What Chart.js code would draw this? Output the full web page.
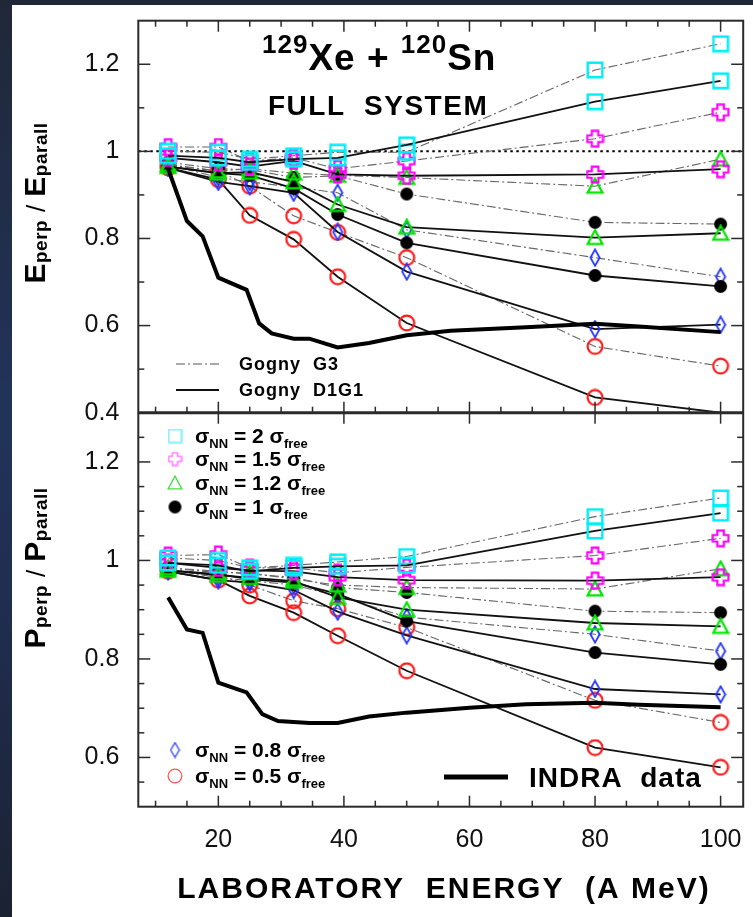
<!DOCTYPE html>
<html>
<head>
<meta charset="utf-8">
<script src="https://cdn.jsdelivr.net/npm/chart.js@4.4.0/dist/chart.umd.min.js"></script>
<style>
  html, body { margin: 0; padding: 0; }
  body {
    width: 753px; height: 917px; overflow: hidden;
    background: linear-gradient(180deg, #202838 0%, #22335a 45%, #1f2c4c 70%, #1b2232 100%);
  }
  #c { position: absolute; left: 0; top: 0; }
</style>
</head>
<body>
<canvas id="c" width="753" height="917"></canvas>
<script>
// beam energies (A MeV) of the simulations
var energy = [12, 20, 25, 32, 39, 50, 80, 100];

// E_perp / E_parall, Gogny G3 (dash-dot) and D1G1 (solid), per sigma_NN
var eG3s20 = [1.000, 0.998, 0.982, 0.990, 0.998, 0.998, 1.187, 1.247];
var eD1s20 = [0.990, 0.985, 0.975, 0.982, 0.985, 1.015, 1.114, 1.162];
var eG3s15 = [1.010, 1.010, 0.978, 0.985, 0.960, 0.978, 1.029, 1.090];
var eD1s15 = [0.985, 0.975, 0.965, 0.978, 0.947, 0.944, 0.947, 0.959];
var eG3s12 = [0.970, 0.955, 0.960, 0.950, 0.945, 0.940, 0.920, 0.982];
var eD1s12 = [0.965, 0.950, 0.952, 0.930, 0.878, 0.826, 0.802, 0.812];
var eG3s10 = [0.975, 0.960, 0.958, 0.940, 0.944, 0.902, 0.837, 0.833];
var eD1s10 = [0.965, 0.950, 0.945, 0.915, 0.855, 0.790, 0.715, 0.690];
var eG3s08 = [0.970, 0.940, 0.930, 0.918, 0.905, 0.820, 0.756, 0.712];
var eD1s08 = [0.962, 0.930, 0.920, 0.905, 0.815, 0.724, 0.592, 0.602];
var eG3s05 = [0.968, 0.955, 0.920, 0.852, 0.814, 0.756, 0.552, 0.507];
var eD1s05 = [0.962, 0.935, 0.853, 0.798, 0.712, 0.606, 0.435, 0.400];

// P_perp / P_parall
var pG3s20 = [1.005, 1.000, 0.985, 0.990, 0.997, 1.008, 1.089, 1.127];
var pD1s20 = [0.995, 0.990, 0.978, 0.985, 0.988, 0.990, 1.060, 1.096];
var pG3s15 = [1.010, 1.012, 0.985, 0.985, 0.975, 0.986, 1.010, 1.045];
var pD1s15 = [0.995, 0.985, 0.980, 0.978, 0.966, 0.960, 0.959, 0.966];
var pG3s12 = [0.985, 0.975, 0.975, 0.962, 0.950, 0.945, 0.942, 0.983];
var pD1s12 = [0.980, 0.970, 0.965, 0.958, 0.925, 0.900, 0.873, 0.866];
var pG3s10 = [0.985, 0.978, 0.972, 0.966, 0.945, 0.935, 0.897, 0.894];
var pD1s10 = [0.980, 0.972, 0.962, 0.955, 0.932, 0.877, 0.813, 0.789];
var pG3s08 = [0.982, 0.965, 0.959, 0.950, 0.928, 0.885, 0.850, 0.816];
var pD1s08 = [0.978, 0.960, 0.955, 0.940, 0.896, 0.848, 0.739, 0.728];
var pG3s05 = [0.982, 0.970, 0.950, 0.918, 0.902, 0.864, 0.716, 0.671];
var pD1s05 = [0.978, 0.960, 0.928, 0.894, 0.847, 0.776, 0.620, 0.580];

// INDRA data
var indraEx = [12, 15, 17.5, 20, 24.5, 26.5, 28.5, 32, 34.5, 39, 44, 50, 57, 69, 80, 87, 100];
var indraE  = [0.960, 0.840, 0.805, 0.710, 0.682, 0.605, 0.582, 0.570, 0.570, 0.550, 0.560, 0.578, 0.588, 0.596, 0.604, 0.598, 0.585];
var indraPx = [12, 15, 17.5, 20, 24.5, 27, 29.5, 34.5, 39, 44, 50, 60, 69, 80, 87, 100];
var indraP  = [0.925, 0.860, 0.853, 0.752, 0.732, 0.688, 0.674, 0.670, 0.670, 0.683, 0.691, 0.701, 0.708, 0.711, 0.707, 0.702];

// axes
var xMin = 7.25, xMax = 103.6;
var xTicks = [20, 40, 60, 80, 100];
var eTicks = [0.4, 0.6, 0.8, 1, 1.2];
var pTicks = [0.6, 0.8, 1, 1.2];

var FONT = '"Liberation Sans", Arial, Helvetica, sans-serif';
Chart.defaults.font.family = FONT;

function marker(kind, color, s, lw, fill) {
  var w = kind === 'diamond' ? Math.round(s * 0.62) : s, h = s;
  var c = document.createElement('canvas');
  c.width = w; c.height = h;
  var g = c.getContext('2d');
  g.strokeStyle = color; g.fillStyle = color; g.lineWidth = lw;
  var p = lw / 2 + 0.5;
  g.beginPath();
  if (kind === 'square') {
    g.rect(p, p, w - 2 * p, h - 2 * p);
  } else if (kind === 'cross') {
    var a = s * 0.33, b = s - a;
    g.moveTo(a, p); g.lineTo(b, p); g.lineTo(b, a); g.lineTo(s - p, a); g.lineTo(s - p, b);
    g.lineTo(b, b); g.lineTo(b, s - p); g.lineTo(a, s - p); g.lineTo(a, b); g.lineTo(p, b);
    g.lineTo(p, a); g.lineTo(a, a); g.closePath();
  } else if (kind === 'triangle') {
    g.moveTo(w / 2, p); g.lineTo(w - p, h - p - 1); g.lineTo(p, h - p - 1); g.closePath();
  } else if (kind === 'diamond') {
    g.moveTo(w / 2, p); g.lineTo(w - p, h / 2); g.lineTo(w / 2, h - p); g.lineTo(p, h / 2); g.closePath();
  } else {
    g.arc(w / 2, h / 2, s / 2 - p, 0, Math.PI * 2);
  }
  if (fill) g.fill(); else g.stroke();
  return c;
}

var CYAN = '#00eef8', MAG = '#ff00ff', GRN = '#00e600', BLU = '#2233ff', RED = '#ff1a1a';
var mSq = marker('square', CYAN, 18, 2.4), mCr = marker('cross', MAG, 19, 2.2),
    mTr = marker('triangle', GRN, 18, 2.2), mDot = marker('circle', '#000', 15, 1, true),
    mDi = marker('diamond', BLU, 19, 1.8), mCi = marker('circle', RED, 18, 2.2);

function pts(xs, ys) { return xs.map(function (x, i) { return { x: x, y: ys[i] }; }); }

function sim(data, axis, model, mk, radius) {
  var g3 = model === 'G3';
  return {
    data: pts(energy, data), yAxisID: axis,
    borderColor: g3 ? '#666' : '#111', borderWidth: g3 ? 1.1 : 1.8,
    borderDash: g3 ? [9, 3, 2, 3] : [],
    pointStyle: mk, pointRadius: radius || 8, tension: 0, fill: false
  };
}

var lastHidden = [8, 8, 8, 8, 8, 8, 8, 0];

var datasets = [
  { data: pts(indraEx, indraE), yAxisID: 'yE', borderColor: '#000', borderWidth: 4, pointRadius: 0, tension: 0 },
  { data: pts(indraPx, indraP), yAxisID: 'yP', borderColor: '#000', borderWidth: 4, pointRadius: 0, tension: 0 },
  sim(eD1s20, 'yE', 'D1', mSq), sim(eG3s20, 'yE', 'G3', mSq),
  sim(pD1s20, 'yP', 'D1', mSq), sim(pG3s20, 'yP', 'G3', mSq),
  sim(eD1s15, 'yE', 'D1', mCr), sim(eG3s15, 'yE', 'G3', mCr),
  sim(pD1s15, 'yP', 'D1', mCr), sim(pG3s15, 'yP', 'G3', mCr),
  sim(eD1s12, 'yE', 'D1', mTr), sim(eG3s12, 'yE', 'G3', mTr),
  sim(pD1s12, 'yP', 'D1', mTr), sim(pG3s12, 'yP', 'G3', mTr),
  sim(eD1s10, 'yE', 'D1', mDot), sim(eG3s10, 'yE', 'G3', mDot),
  sim(pD1s10, 'yP', 'D1', mDot), sim(pG3s10, 'yP', 'G3', mDot),
  sim(eD1s08, 'yE', 'D1', mDi), sim(eG3s08, 'yE', 'G3', mDi),
  sim(pD1s08, 'yP', 'D1', mDi), sim(pG3s08, 'yP', 'G3', mDi),
  sim(eD1s05, 'yE', 'D1', mCi, lastHidden), sim(eG3s05, 'yE', 'G3', mCi),
  sim(pD1s05, 'yP', 'D1', mCi), sim(pG3s05, 'yP', 'G3', mCi),
  { data: pts([xMin, xMax], [1, 1]), yAxisID: 'yE', borderColor: '#000', borderWidth: 2, borderDash: [2.5, 3.5], pointRadius: 0 }
];

function tickList(arr) { return function (s) { s.ticks = arr.map(function (v) { return { value: v }; }); }; }
function plain(v) { return String(Math.round(v * 100) / 100); }

var tickFont = { size: 25 };

function yScale(min, max, ticks, weight) {
  return {
    type: 'linear', position: 'left', stack: 'panels', stackWeight: weight,
    min: min, max: max, afterBuildTicks: tickList(ticks),
    grid: { display: false }, border: { display: false },
    ticks: { font: tickFont, color: '#111', padding: 11, callback: plain },
    afterFit: function (s) { s.width = 138.3; s.paddingTop = 0; s.paddingBottom = 0; }
  };
}

function runs(ctx, x, y, parts) {
  parts.forEach(function (p) {
    ctx.font = p[2] + ' ' + p[1] + 'px ' + FONT;
    ctx.fillText(p[0], x, y + p[3]);
    x += ctx.measureText(p[0]).width;
  });
  return x;
}
function runsWidth(ctx, parts) {
  var w = 0;
  parts.forEach(function (p) { ctx.font = p[2] + ' ' + p[1] + 'px ' + FONT; w += ctx.measureText(p[0]).width; });
  return w;
}

var legS = marker('square', '#55eefc', 15, 1.3), legC = marker('cross', '#ff66ff', 15, 1.3),
    legT = marker('triangle', '#44dd44', 16, 1.3), legD = marker('circle', '#000', 15, 1, true),
    legDi = marker('diamond', '#3344ff', 17, 1.3), legCi = marker('circle', '#ff5555', 16, 1.3);

var sigmaRows = [
  ['2', legS, 436], ['1.5', legC, 459], ['1.2', legT, 483], ['1', legD, 507],
  ['0.8', legDi, 750], ['0.5', legCi, 776]
];

var decor = {
  id: 'decor',
  beforeDraw: function (chart) {
    var ctx = chart.ctx;
    ctx.save();
    ctx.fillStyle = '#fff';
    ctx.fillRect(12, 5, 741, 912);
    ctx.restore();
  },
  afterDatasetsDraw: function (chart) {
    var ctx = chart.ctx, a = chart.chartArea, sx = chart.scales.x, sE = chart.scales.yE, sP = chart.scales.yP;
    var mid = sE.bottom;
    ctx.save();
    ctx.strokeStyle = '#2a2a2a';
    ctx.lineWidth = 1.5;
    function seg(x1, y1, x2, y2) { ctx.beginPath(); ctx.moveTo(x1, y1); ctx.lineTo(x2, y2); ctx.stroke(); }
    for (var v = 10; v <= 100; v += 5) {
      var px = sx.getPixelForValue(v), major = v % 20 === 0, L = major ? 11 : 6;
      seg(px, a.top, px, a.top + L);
      seg(px, mid, px, mid - L);
      if (major) seg(px, mid, px, mid + L);
      seg(px, a.bottom, px, a.bottom - L);
    }
    for (var k = 5; k <= 12; k++) {
      var py = sE.getPixelForValue(k / 10), Ly = k % 2 === 0 ? 12 : 6;
      seg(a.left, py, a.left + Ly, py); seg(a.right, py, a.right - Ly, py);
    }
    for (var j = 11; j <= 25; j++) {
      var qy = sP.getPixelForValue(j / 20), Lq = j % 4 === 0 ? 12 : 6;
      seg(a.left, qy, a.left + Lq, qy); seg(a.right, qy, a.right - Lq, qy);
    }
    ctx.lineWidth = 2;
    ctx.strokeRect(a.left, a.top, a.width, a.height);
    ctx.lineWidth = 3;
    seg(a.left, mid, a.right, mid);

    // texts
    ctx.fillStyle = '#000';
    ctx.textBaseline = 'alphabetic';
    ctx.textAlign = 'left';
    ctx.letterSpacing = '1px';
    runs(ctx, 262, 70, [['129', 26, 'bold', -17], ['Xe', 37, 'bold', 0], [' + ', 37, 'bold', 0], ['120', 26, 'bold', -17], ['Sn', 37, 'bold', 0]]);
    ctx.letterSpacing = '1.5px';
    runs(ctx, 268, 115, [['FULL  SYSTEM', 28, 'bold', 0]]);

    // Gogny legend
    ctx.letterSpacing = '1px';
    ctx.strokeStyle = '#555'; ctx.lineWidth = 1.1; ctx.setLineDash([9, 3, 2, 3]);
    seg(176, 364, 219, 364);
    ctx.strokeStyle = '#111'; ctx.lineWidth = 2; ctx.setLineDash([]);
    seg(176, 390, 219, 390);
    runs(ctx, 239, 370, [['Gogny  G3', 18, 'bold', 0]]);
    runs(ctx, 239, 396, [['Gogny  D1G1', 18, 'bold', 0]]);

    // sigma legend
    ctx.letterSpacing = '0px';
    sigmaRows.forEach(function (r) {
      var m = r[1];
      ctx.drawImage(m, 175 - m.width / 2, r[2] - m.height / 2);
      runs(ctx, 195, r[2] + 7, [['σ', 21, 'bold', 0], ['NN', 13, 'bold', 5], [' = ' + r[0] + ' ', 21, 'bold', 0], ['σ', 21, 'bold', 0], ['free', 13, 'bold', 5]]);
    });

    // INDRA legend
    ctx.lineWidth = 5; ctx.strokeStyle = '#000';
    seg(444, 777, 508, 777);
    ctx.letterSpacing = '1px';
    runs(ctx, 529, 787, [['INDRA  data', 28, 'bold', 0]]);

    // x title
    ctx.letterSpacing = '2px';
    var xt = [['LABORATORY  ENERGY  (A MeV)', 30, 'bold', 0]];
    runs(ctx, 444 - runsWidth(ctx, xt) / 2, 898, xt);

    // y titles
    ctx.letterSpacing = '0.5px';
    function ytitle(letter, cy) {
      var parts = [[letter, 30, 'bold', 0], ['perp', 19, 'bold', 2], [' / ', 26, 'normal', 0], [letter, 30, 'bold', 0], ['parall', 19, 'bold', 2]];
      ctx.save();
      ctx.translate(45, cy);
      ctx.rotate(-Math.PI / 2);
      runs(ctx, -runsWidth(ctx, parts) / 2, 0, parts);
      ctx.restore();
    }
    ytitle('E', 203);
    ytitle('P', 568);
    ctx.restore();
  }
};

new Chart(document.getElementById('c'), {
  type: 'line',
  data: { datasets: datasets },
  options: {
    responsive: false, animation: false, events: [],
    layout: { padding: { top: 20.7, right: 5.3, left: 0, bottom: 0 } },
    plugins: { legend: { display: false }, tooltip: { enabled: false } },
    scales: {
      x: {
        type: 'linear', min: xMin, max: xMax, afterBuildTicks: tickList(xTicks),
        grid: { display: false }, border: { display: false },
        ticks: { font: tickFont, color: '#111', padding: 10, maxRotation: 0, autoSkip: false, callback: plain },
        afterFit: function (s) { s.height = 110.3; s.paddingLeft = 0; s.paddingRight = 0; }
      },
      yP: yScale(0.5, 1.3, pTicks, 394),
      yE: yScale(0.4, 1.3, eTicks, 392)
    }
  },
  plugins: [decor]
});
</script>
</body>
</html>
